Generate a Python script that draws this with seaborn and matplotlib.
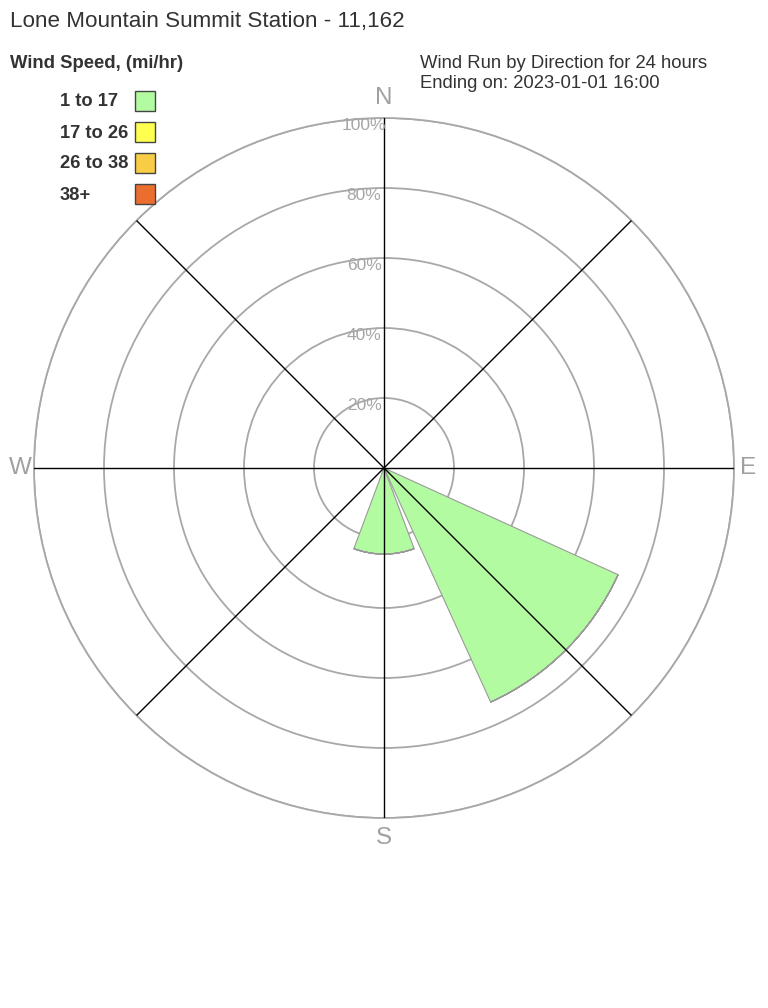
## Wind rose - Lone Mountain Summit Station

import numpy as np
import matplotlib
matplotlib.use("Agg")
import matplotlib.pyplot as plt
from matplotlib.patches import Rectangle
import seaborn as sns

# data
directions = ["N", "NE", "E", "SE", "S", "SW", "W", "NW"]
bearings = [0, 45, 90, 135, 180, 225, 270, 315]
speed_bins = ["1 to 17", "17 to 26", "26 to 38", "38+"]
bin_colors = ["#b3fba1", "#ffff50", "#f8cd45", "#ec6e2e"]
# percent of wind run per direction, one list per speed bin
pct_1_17 = [0, 0, 0, 73.5, 24.6, 0, 0, 0]
pct_17_26 = [0, 0, 0, 0, 0, 0, 0, 0]
pct_26_38 = [0, 0, 0, 0, 0, 0, 0, 0]
pct_38p = [0, 0, 0, 0, 0, 0, 0, 0]
ring_ticks = [20, 40, 60, 80, 100]
ring_labels = ["20%", "40%", "60%", "80%", "100%"]
compass = ["N", "E", "S", "W"]

sns.set_style("white")
plt.rcParams["font.family"] = ["Liberation Sans", "DejaVu Sans"]

fig = plt.figure(figsize=(7.68, 10.08), dpi=100)
ax = fig.add_axes([34/768, 190/1008, 700/768, 700/1008], projection="polar")
ax.set_theta_zero_location("N")
ax.set_theta_direction(-1)
ax.set_ylim(0, 100)

# stacked wedges
theta = np.deg2rad(bearings)
width = np.deg2rad(41)
bottom = np.zeros(len(directions))
for vals, col in zip([pct_1_17, pct_17_26, pct_26_38, pct_38p], bin_colors):
  vals = np.array(vals, dtype=float)
  ax.bar(theta, vals, width=width, bottom=bottom, color=col,
         edgecolor="#9a9a9a", linewidth=0.8, zorder=2)
  bottom += vals

# rings (under wedges)
ax.set_rgrids(ring_ticks, labels=[])
ax.yaxis.grid(True, color="#a8a8a8", linewidth=1.3, zorder=0)
ax.set_axisbelow(True)
ax.xaxis.grid(False)
ax.set_xticks([])
ax.spines["polar"].set_color("#a8a8a8")
ax.spines["polar"].set_linewidth(1.3)

# spokes (over wedges)
for t in theta:
  ax.plot([t, t], [0, 100], color="black", linewidth=1, zorder=3)

for r, lab in zip(ring_ticks, ring_labels):
  ax.annotate(lab, xy=(0, r), xytext=(-20, -8), textcoords="offset pixels",
              ha="center", va="center", color="#a6a6a6", fontsize=12.5, zorder=4)

for b, lab in zip([0, 90, 180, 270], compass):
  rr = 105.7 if b in (0, 180) else 104
  ax.text(np.deg2rad(b), rr, lab, ha="center", va="center", color="#a0a0a0",
          fontsize=17.5, clip_on=False)

# titles
fig.text(10/768, 1 - 22/1008, "Lone Mountain Summit Station - 11,162",
         ha="left", va="center", fontsize=16.1, color="#333333")
fig.text(10/768, 1 - 64/1008, "Wind Speed, (mi/hr)", ha="left", va="center",
         fontsize=13.3, fontweight="bold", color="#333333")
fig.text(420/768, 1 - 64/1008, "Wind Run by Direction for 24 hours",
         ha="left", va="center", fontsize=13.3, color="#333333")
fig.text(420/768, 1 - 83/1008, "Ending on: 2023-01-01 16:00",
         ha="left", va="center", fontsize=13.3, color="#333333")

# legend
for i, (lab, col) in enumerate(zip(speed_bins, bin_colors)):
  y = 101 + i * 31
  fig.text(60/768, 1 - (y + 1)/1008, lab, ha="left", va="center", fontsize=13.2,
           fontweight="bold", color="#333333")
  fig.patches.append(Rectangle((135/768, 1 - (y + 10)/1008), 20/768, 20/1008,
                               transform=fig.transFigure, facecolor=col,
                               edgecolor="#444444", linewidth=1))

fig.savefig("out.png", dpi=100)
